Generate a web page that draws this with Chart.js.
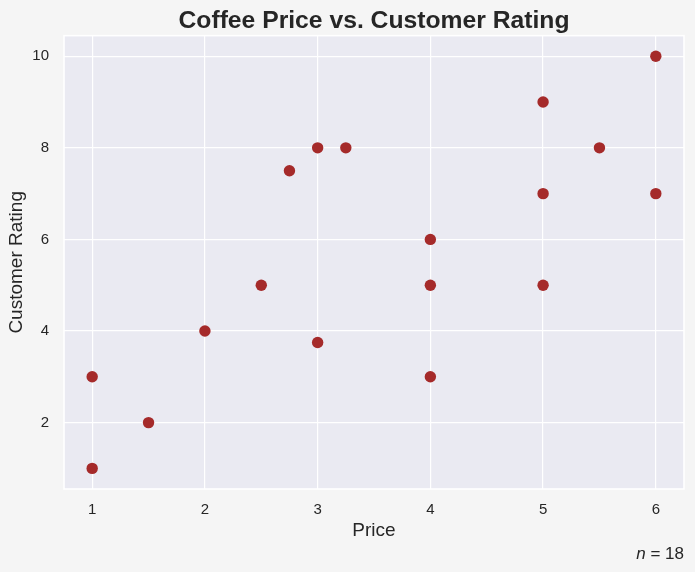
<!DOCTYPE html>
<html>
<head>
<meta charset="utf-8">
<script src="https://cdn.jsdelivr.net/npm/chart.js@4.4.1/dist/chart.umd.min.js"></script>
<style>
    html, body { margin: 0; padding: 0; background: #f5f5f5; }
    #wrap { width: 695px; height: 572px; position: relative; }
</style>
</head>
<body>
<div id="wrap"><canvas id="coffeeChart"></canvas></div>
<script>
// Dados
const prices = [1, 1, 1.5, 2, 2.5, 2.75, 3, 3.25, 3, 4, 4, 4, 5, 5, 5, 5.5, 6, 6];
const ratings = [3, 1, 2, 4, 5, 7.5, 8, 8, 3.75, 6, 5, 3, 9, 7, 5, 8, 10, 7];
const xTicks = [1, 2, 3, 4, 5, 6];
const yTicks = [2, 4, 6, 8, 10];
const sampleLabel = 'n = 18';

const textColor = '#262626';
const fontFamily = '"Liberation Sans", Arial, sans-serif';

// Fundo da figura e da área do gráfico
const backgroundPlugin = {
    id: 'seabornBackground',
    beforeDraw(chart) {
        const { ctx, chartArea: a } = chart;
        ctx.save();
        ctx.fillStyle = '#f5f5f5';
        ctx.fillRect(0, 0, chart.width, chart.height);
        ctx.fillStyle = '#eaeaf2';
        ctx.fillRect(a.left, a.top, a.right - a.left, a.bottom - a.top);
        ctx.restore();
    },
    beforeDatasetsDraw(chart) {
        const { ctx, chartArea: a } = chart;
        ctx.save();
        ctx.strokeStyle = '#ffffff';
        ctx.lineWidth = 1.6;
        ctx.strokeRect(a.left, a.top, a.right - a.left, a.bottom - a.top);
        ctx.restore();
    }
};

// Anotação "n = 18" no canto inferior direito
const sampleSizePlugin = {
    id: 'sampleSize',
    afterDraw(chart) {
        const { ctx, chartArea: a } = chart;
        const [first, ...rest] = sampleLabel.split(' ');
        const restText = ' ' + rest.join(' ');
        ctx.save();
        ctx.fillStyle = textColor;
        ctx.textBaseline = 'middle';
        ctx.font = '17px ' + fontFamily;
        const restWidth = ctx.measureText(restText).width;
        ctx.textAlign = 'right';
        ctx.fillText(restText, a.right, 554);
        ctx.font = 'italic 17px ' + fontFamily;
        ctx.fillText(first, a.right - restWidth, 554);
        ctx.restore();
    }
};

const ctx = document.getElementById('coffeeChart');

new Chart(ctx, {
    type: 'scatter',
    data: {
        datasets: [{
            label: 'Coffee',
            data: prices.map((p, i) => ({ x: p, y: ratings[i] })),
            backgroundColor: '#a52a2a',
            borderWidth: 0,
            pointRadius: 5.7,
            pointHoverRadius: 5.7
        }]
    },
    options: {
        responsive: true,
        maintainAspectRatio: false,
        animation: false,
        layout: {
            padding: { top: 0, right: 11, bottom: 0, left: 0 }
        },
        plugins: {
            legend: { display: false },
            tooltip: { enabled: false },
            title: {
                display: true,
                fullSize: false,
                text: 'Coffee Price vs. Customer Rating',
                color: textColor,
                font: { family: fontFamily, size: 24.7, weight: 'bold', lineHeight: 1.2 },
                padding: { top: 6, bottom: 0 }
            }
        },
        scales: {
            x: {
                type: 'linear',
                min: 0.75,
                max: 6.25,
                afterBuildTicks: (scale) => {
                    scale.ticks = xTicks.map(v => ({ value: v }));
                },
                afterFit: (scale) => { scale.height = 83; },
                grid: { color: '#ffffff', lineWidth: 1.2, drawTicks: false },
                border: { display: false },
                ticks: {
                    color: textColor,
                    padding: 12,
                    font: { family: fontFamily, size: 15, lineHeight: 1.2 },
                    maxRotation: 0
                },
                title: {
                    display: true,
                    text: 'Price',
                    color: textColor,
                    font: { family: fontFamily, size: 19, lineHeight: 1.2 },
                    padding: { top: 0, bottom: 30 }
                }
            },
            y: {
                type: 'linear',
                min: 0.55,
                max: 10.45,
                afterBuildTicks: (scale) => {
                    scale.ticks = yTicks.map(v => ({ value: v }));
                },
                afterFit: (scale) => { scale.width = 64; },
                grid: { color: '#ffffff', lineWidth: 1.2, drawTicks: false },
                border: { display: false },
                ticks: {
                    color: textColor,
                    padding: 15,
                    font: { family: fontFamily, size: 15, lineHeight: 1.2 }
                },
                title: {
                    display: true,
                    text: 'Customer Rating',
                    color: textColor,
                    font: { family: fontFamily, size: 19, lineHeight: 1.2 },
                    padding: { top: 5, bottom: 0 }
                }
            }
        }
    },
    plugins: [backgroundPlugin, sampleSizePlugin]
});
</script>
</body>
</html>
